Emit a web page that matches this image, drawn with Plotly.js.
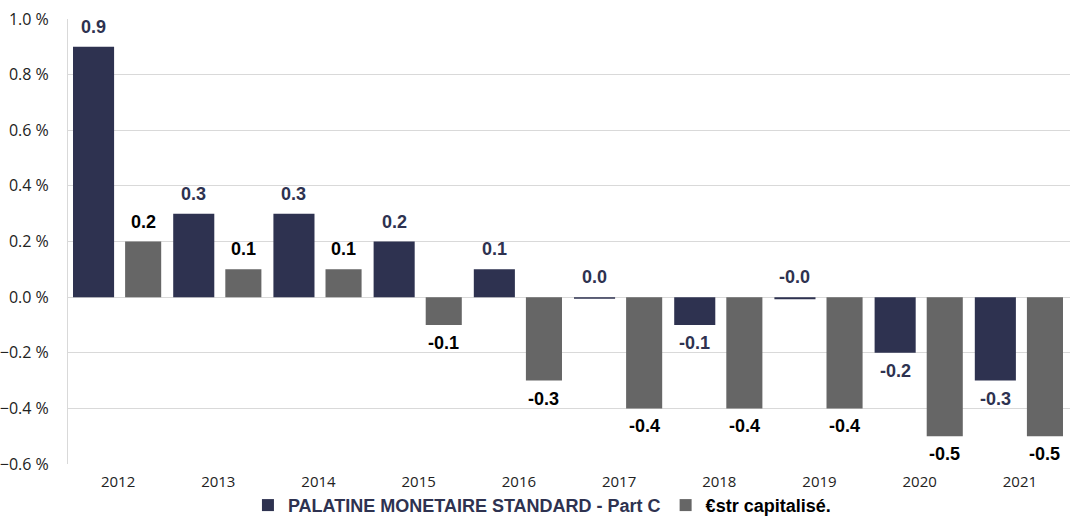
<!DOCTYPE html>
<html>
<head>
<meta charset="utf-8">
<script src="https://cdn.plot.ly/plotly-3.0.1.min.js"></script>
<style>html,body{margin:0;padding:0;background:#fff;}#chart{width:1070px;height:518px;}</style>
</head>
<body>
<div id="chart"></div>
<script>
const years = ['2012','2013','2014','2015','2016','2017','2018','2019','2020','2021'];
const palatineName = 'PALATINE MONETAIRE STANDARD - Part C';
const estrName = '€str capitalisé.';
const palatine = [0.9, 0.3, 0.3, 0.2, 0.1, -0.006, -0.1, -0.008, -0.2, -0.3];
const estr = [0.2, 0.1, 0.1, -0.1, -0.3, -0.4, -0.4, -0.4, -0.5, -0.5];
const palatineLabels = ['0.9','0.3','0.3','0.2','0.1','0.0','-0.1','-0.0','-0.2','-0.3'];
const estrLabels = ['0.2','0.1','0.1','-0.1','-0.3','-0.4','-0.4','-0.4','-0.5','-0.5'];

const NAVY = '#2e3250';
const GREY = '#666666';
const idx = years.map((_, i) => i);

const traces = [
  {type:'bar', x: idx, y: palatine, name: '<span style="color:' + NAVY + '">' + palatineName + '</span>',
   marker:{color: NAVY}, offset: -0.45, width: 0.41, hoverinfo:'skip'},
  {type:'bar', x: idx, y: estr, name: '<span style="color:#000">' + estrName + '</span>',
   marker:{color: GREY}, offset: 0.07, width: 0.36, hoverinfo:'skip'}
];

function labelAnn(vals, labels, dx, color) {
  return vals.map((v, i) => {
    const above = v > -0.05;
    return {
      x: i + dx, y: above ? Math.max(v, 0) : v, xref:'x', yref:'y',
      text: labels[i], showarrow:false,
      yanchor: above ? 'bottom' : 'top', yshift: above ? 8 : -6,
      font:{family:'Liberation Sans, Arial, sans-serif', size:18, color: color, weight:'bold'}
    };
  });
}
const annotations = labelAnn(palatine, palatineLabels, -0.245, NAVY)
  .concat(labelAnn(estr, estrLabels, 0.25, '#000000'));

const layout = {
  width:1070, height:518,
  margin:{l:68, r:0, t:19, b:54, autoexpand:false},
  paper_bgcolor:'#fff', plot_bgcolor:'#fff',
  barmode:'overlay',
  showlegend:true,
  legend:{orientation:'h', xref:'paper', x:0.473, xanchor:'center', yref:'paper', y:-0.093, yanchor:'middle',
          bgcolor:'rgba(0,0,0,0)',
          font:{family:'Liberation Sans, Arial, sans-serif', size:18, color:'#000', weight:'bold'}, traceorder:'normal'},
  xaxis:{type:'linear', range:[-0.5, 9.5], tickvals: idx, ticktext: years, showgrid:false, zeroline:false,
         showline:false, ticks:'', ticklabelstandoff:7,
         tickfont:{family:'Open Sans, sans-serif', size:15, color:'#222'}},
  yaxis:{range:[-0.6, 1.0], dtick:0.2, tick0:0, tickformat:'.1f', ticksuffix:' %',
         showgrid:true, gridcolor:'#d9d9d9', gridwidth:1, zeroline:true, zerolinecolor:'#d9d9d9', zerolinewidth:1,
         showline:true, linecolor:'#d9d9d9', linewidth:1, ticks:'', ticklabelstandoff:15,
         tickfont:{family:'Open Sans, sans-serif', size:16, color:'#222'}},
  annotations: annotations
};

Plotly.newPlot('chart', traces, layout, {displayModeBar:false, staticPlot:true});
</script>
</body>
</html>
